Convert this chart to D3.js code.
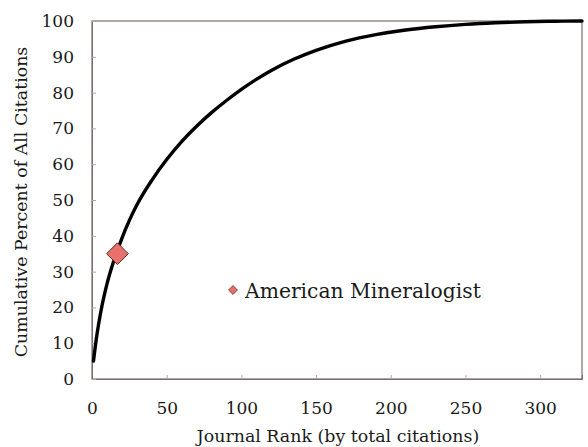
<!DOCTYPE html>
<html>
<head>
<meta charset="utf-8">
<script src="https://cdn.jsdelivr.net/npm/d3@7"></script>
<style>
  html, body { margin: 0; padding: 0; background: #fff; }
  svg { display: block; }
  text { font-family: "DejaVu Serif", "Liberation Serif", serif; fill: #1a1a1a; }
</style>
</head>
<body>
<svg id="chart" width="588" height="447"></svg>
<script>
// ---- data ----
const rank = [1, 3, 6, 10, 15, 20, 25, 30, 40, 50, 60, 70, 80, 90, 100, 110, 120, 135, 150, 170, 190, 210, 230, 250, 270, 290, 310, 328];
const cumulativePercent = [5, 11.5, 19, 26.5, 33.5, 39.3, 44.3, 48.6, 55.5, 61.3, 66.3, 70.6, 74.4, 77.8, 80.9, 83.7, 86.2, 89.3, 91.8, 94.4, 96.2, 97.5, 98.4, 99.05, 99.5, 99.8, 99.95, 100];
const highlightName = ["American Mineralogist"];
const highlightRank = [17];
const highlightPercent = [35];
const xTicks = [0, 50, 100, 150, 200, 250, 300];
const yTicks = [0, 10, 20, 30, 40, 50, 60, 70, 80, 90, 100];
const xTitle = "Journal Rank (by total citations)";
const yTitle = "Cumulative Percent of All Citations";

// ---- layout ----
const svg = d3.select("#chart");
const L = 92, R = 582, T = 21, B = 379;
const x = d3.scaleLinear().domain([0, 328]).range([L, R]);
const y = d3.scaleLinear().domain([0, 100]).range([B, T]);

// plot box
svg.append("rect")
  .attr("x", L).attr("y", T).attr("width", R - L).attr("height", B - T)
  .attr("fill", "#fff").attr("stroke", "#7a6e6c").attr("stroke-width", 1.2);

// axes (inward ticks)
const xAxis = d3.axisBottom(x).tickValues(xTicks).tickSize(-4).tickPadding(23);
const gx = svg.append("g").attr("transform", `translate(0,${B})`).call(xAxis);
gx.select(".domain").attr("stroke", "#7a6e6c");
gx.selectAll(".tick line").attr("stroke", "#aaa");
gx.selectAll(".tick text").attr("font-size", 17).attr("font-family", "DejaVu Serif").attr("fill", "#1a1a1a");

const yAxis = d3.axisLeft(y).tickValues(yTicks).tickSize(-4).tickPadding(18);
const gy = svg.append("g").attr("transform", `translate(${L},0)`).call(yAxis);
gy.select(".domain").attr("stroke", "#7a6e6c");
gy.selectAll(".tick line").attr("stroke", "#aaa");
gy.selectAll(".tick text").attr("font-size", 17).attr("font-family", "DejaVu Serif").attr("fill", "#1a1a1a");

// curve
const pts = rank.map((r, i) => [r, cumulativePercent[i]]);
svg.append("path")
  .datum(pts)
  .attr("fill", "none")
  .attr("stroke", "#000")
  .attr("stroke-width", 3.4)
  .attr("stroke-linecap", "round")
  .attr("d", d3.line().x(d => x(d[0])).y(d => y(d[1])).curve(d3.curveMonotoneX));

// highlight point (diamond)
const diamond = d3.symbol().type(d3.symbolDiamond2);
svg.append("path")
  .attr("d", diamond.size(300)())
  .attr("transform", `translate(${x(highlightRank[0])},${y(highlightPercent[0])})`)
  .attr("fill", "#e8716d").attr("stroke", "#5a2a28").attr("stroke-width", 1);

// legend
const lg = svg.append("g").attr("transform", "translate(233,290)");
lg.append("path")
  .attr("d", diamond.size(50)())
  .attr("fill", "#e8716d").attr("stroke", "#5a2a28").attr("stroke-width", 0.8);
lg.append("text").attr("x", 12).attr("y", 8)
  .attr("font-size", 20.3).text(highlightName[0]);

// axis titles
svg.append("text")
  .attr("x", 338).attr("y", 442)
  .attr("text-anchor", "middle").attr("font-size", 17.4)
  .text(xTitle);
svg.append("text")
  .attr("transform", "translate(27,202) rotate(-90)")
  .attr("text-anchor", "middle").attr("font-size", 17.4)
  .text(yTitle);
</script>
</body>
</html>
